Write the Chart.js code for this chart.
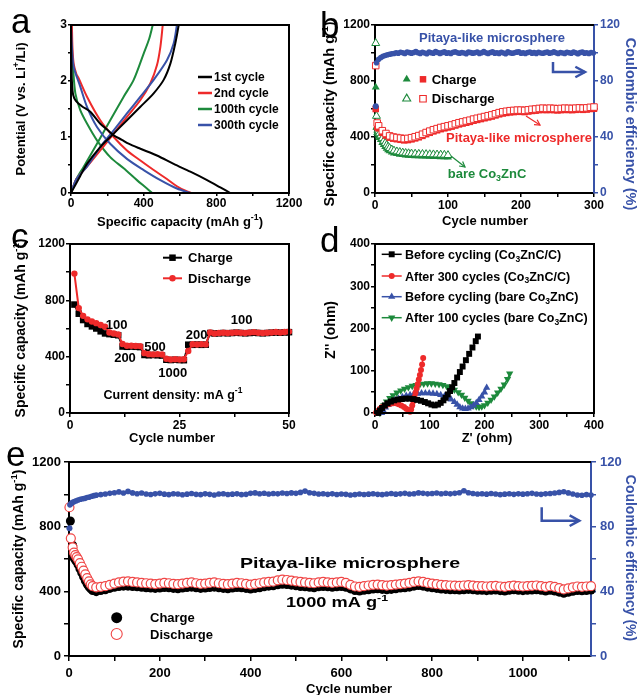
<!DOCTYPE html>
<html>
<head>
<meta charset="utf-8">
<title>Pitaya-like Co3ZnC/C electrochemistry</title>
<script src="https://cdn.jsdelivr.net/npm/chart.js@4.4.1/dist/chart.umd.min.js"></script>
<style>
  html, body { margin: 0; padding: 0; background: #fff; }
  #fig { position: relative; width: 639px; height: 695px; overflow: hidden; }
  #fig canvas { position: absolute; left: 0; top: 0; }
</style>
</head>
<body>
<div id="fig">
  <canvas id="chartA" width="639" height="695"></canvas>
  <canvas id="chartB" width="639" height="695"></canvas>
  <canvas id="chartC" width="639" height="695"></canvas>
  <canvas id="chartD" width="639" height="695"></canvas>
  <canvas id="chartE" width="639" height="695"></canvas>
</div>
<script>
const FONT = "'Liberation Sans', Arial, Helvetica, sans-serif";
const BLACK = '#000000';
const RED = '#ee2a2a';
const GREEN = '#1d8a3c';
const BLUE = '#3852a8';

function range(start, step, n) { return Array.from({ length: n }, (_, i) => start + i * step); }

// (a) voltage profiles, capacity (mAh/g) vs potential (V)
const aDis1Cap = [0, 2, 5, 12, 28, 60, 106, 160, 200, 235, 280, 317, 382, 473, 565, 657, 749, 822, 877];
const aDis1V = [3, 2.4, 2.0, 1.75, 1.64, 1.55, 1.45, 1.24, 1.13, 1.03, 0.95, 0.88, 0.79, 0.67, 0.52, 0.38, 0.23, 0.1, 0];
const aChg1Cap = [0, 20, 50, 88, 161, 235, 308, 382, 455, 510, 547, 574, 593];
const aChg1V = [0, 0.12, 0.3, 0.52, 0.82, 1.06, 1.3, 1.54, 1.78, 2.02, 2.31, 2.67, 3];
const aDis2Cap = [5, 8, 15, 30, 42, 88, 161, 235, 308, 382, 455, 528, 583, 630, 666];
const aDis2V = [3, 2.6, 2.3, 2.12, 2.05, 1.72, 1.3, 1.0, 0.76, 0.58, 0.41, 0.25, 0.12, 0.04, 0];
const aChg2Cap = [0, 30, 88, 161, 235, 308, 382, 437, 473, 492, 505];
const aChg2V = [0, 0.25, 0.47, 0.76, 1.06, 1.36, 1.66, 1.96, 2.28, 2.61, 3];
const aDis100Cap = [0, 3, 11, 24, 51, 88, 143, 216, 290, 363, 418, 446];
const aDis100V = [3, 2.6, 2.25, 1.78, 1.48, 1.24, 0.94, 0.64, 0.44, 0.23, 0.08, 0];
const aChg100Cap = [0, 30, 70, 143, 216, 290, 345, 400, 430, 450];
const aChg100V = [0, 0.25, 0.47, 0.88, 1.3, 1.72, 2.02, 2.49, 2.75, 3];
const aDis300Cap = [0, 5, 15, 51, 88, 143, 216, 308, 400, 492, 583, 657];
const aDis300V = [3, 2.6, 2.25, 1.9, 1.54, 1.18, 0.88, 0.61, 0.41, 0.23, 0.08, 0];
const aChg300Cap = [0, 30, 88, 161, 235, 308, 382, 455, 528, 565, 583];
const aChg300V = [0, 0.25, 0.47, 0.82, 1.12, 1.42, 1.72, 2.02, 2.37, 2.67, 3];

// (b) cycling at 100 mA/g
const bCycles = [1, 3].concat(range(5, 5, 60));
const bPitDis = [910, 500, 480, 445, 425, 408, 400, 396, 392, 388, 390, 395, 402, 410, 420, 432, 442, 452, 460, 468, 474, 480,
  486, 494, 502, 508, 514, 520, 528, 534, 540, 546, 552, 558, 566, 574, 580, 584, 588, 590, 592, 592,
  590, 594, 598, 600, 604, 606, 604, 606, 604, 602, 604, 606, 605, 604, 606, 608, 606, 608, 612, 614];
const bPitChg = [600, 470, 462, 430, 410, 395, 388, 384, 380, 376, 378, 383, 390, 398, 408, 420, 430, 440, 448, 456, 462, 468,
  474, 482, 490, 496, 502, 508, 516, 522, 528, 534, 540, 546, 554, 562, 568, 572, 576, 578, 580, 580,
  578, 582, 586, 588, 592, 594, 592, 594, 592, 590, 592, 594, 593, 592, 594, 596, 594, 596, 600, 602];
const bBareCycles = [1, 2, 3, 4, 5, 6, 8, 10, 12, 14, 16, 18, 20, 23, 26, 30, 34, 38, 42, 46, 50, 55, 60, 65, 70, 75, 80, 85, 90, 95, 100];
const bBareDis = [1070, 550, 470, 450, 440, 425, 410, 390, 372, 356, 342, 330, 320, 310, 302, 296, 292, 288, 285, 283, 281, 280, 279, 278, 277, 276, 275, 274, 273, 272, 270];
const bBareChg = [755, 470, 430, 420, 405, 395, 380, 360, 345, 330, 318, 308, 300, 292, 285, 280, 276, 273, 270, 268, 266, 265, 264, 263, 262, 261, 260, 259, 258, 257, 256];
const bCeFirst = 62;
const bCeCycles = range(2, 3, 100);
const bCe = [93, 95.5, 96.8, 97.6, 98.2, 98.7, 99.1, 99.4, 99.6,
  100.2, 99.8, 100.5, 100.1, 99.6, 100.7, 100.3, 99.9, 100.4, 101.0,
  100.2, 99.7, 100.5, 100.0, 99.5, 100.6, 100.2, 99.8, 101.1, 100.4,
  99.7, 100.3, 100.8, 99.9, 100.2, 99.6, 100.5, 100.9, 100.1, 99.8,
  100.4, 100.0, 99.5, 100.7, 100.3, 99.9, 100.1, 100.6, 99.7, 100.2,
  101.0, 100.1, 99.6, 100.4, 100.8, 99.9, 100.2, 99.7, 100.5, 100.0,
  99.5, 100.8, 100.2, 99.8, 100.1, 100.6, 100.9, 99.8, 100.2, 99.6,
  100.4, 100.7, 99.9, 100.3, 99.7, 100.5, 100.0, 99.8, 100.3, 100.6,
  99.9, 100.2, 100.8, 100.1, 99.6, 100.4, 100.0, 99.7, 100.5, 100.2,
  99.8, 100.6, 100.1, 99.5, 100.3, 100.7, 99.9, 100.2, 99.6, 100.4,
  100.0];

// (c) rate capability
const cCycles = range(1, 1, 50);
const cChg = [770, 705, 660, 632, 615, 600, 580, 565, 560, 556, 552, 472, 470, 472, 470, 468, 412, 410, 412, 410, 408,
  378, 376, 378, 376, 375, 485, 484, 486, 484, 485, 568, 565, 566, 568, 566, 568, 570, 568, 566, 568, 570, 568, 566, 568, 570, 572, 570, 572, 574];
const cDis = [990, 745, 690, 665, 650, 638, 625, 612, 572, 565, 558, 490, 478, 478, 476, 475, 425, 418, 416, 418, 415,
  385, 380, 382, 380, 382, 440, 488, 486, 488, 487, 572, 565, 568, 570, 568, 570, 572, 570, 568, 572, 574, 570, 568, 570, 572, 575, 572, 575, 578];

// (d) Nyquist plots, Z' and Z'' in ohm
const dBlackX = [6, 9, 13, 18, 23, 29, 35, 42, 49, 56, 63, 70, 77, 84, 91, 97, 103, 109, 115, 120, 125, 129, 133, 137, 141, 145, 150, 155, 160, 166, 172, 178, 184, 188];
const dBlackY = [0, 6, 12, 18, 23, 27, 30, 32, 33, 34, 34, 33, 31, 29, 26, 23, 20, 18, 20, 24, 30, 36, 44, 52, 61, 71, 84, 97, 110, 125, 140, 155, 170, 181];
const dRedX = [2, 5, 9, 13, 18, 23, 28, 33, 38, 43, 48, 53, 57, 61, 64, 66, 68, 70, 72, 74, 76, 78, 80, 82, 84, 86, 88];
const dRedY = [1, 5, 10, 14, 17, 20, 22, 23, 23, 21, 18, 14, 10, 6, 3, 8, 18, 28, 38, 48, 58, 68, 79, 90, 102, 115, 130];
const dBlueX = [12, 15, 19, 24, 30, 36, 43, 50, 57, 64, 71, 78, 85, 92, 99, 106, 113, 120, 127, 133, 139, 145, 150, 155, 160, 165, 170, 175, 180, 185, 190, 195, 200, 204];
const dBlueY = [0, 6, 13, 19, 25, 30, 34, 38, 41, 43, 45, 46, 47, 47, 47, 46, 45, 43, 40, 37, 32, 26, 20, 14, 11, 10, 11, 14, 18, 24, 31, 39, 49, 60];
const dGreenX = [9, 12, 16, 21, 27, 33, 40, 47, 54, 61, 68, 75, 82, 89, 96, 103, 110, 117, 124, 131, 138, 145, 152, 158, 164, 170, 175, 180, 185, 190, 195, 200, 206, 212, 218, 224, 230, 236, 242, 246];
const dGreenY = [0, 9, 18, 27, 35, 42, 48, 53, 57, 61, 64, 66, 68, 69, 70, 70, 69, 68, 66, 63, 59, 55, 49, 43, 36, 29, 23, 18, 15, 14, 15, 18, 24, 31, 39, 48, 57, 67, 80, 93];

// (e) long cycling at 1000 mA/g
const eLateCycles = range(60, 10, 110);
const eDisCycles = [1, 4, 8, 11, 14, 17, 20, 24, 28, 32, 36, 40, 44, 48, 52].concat(eLateCycles);
const eDis = [920, 728, 672, 640, 624, 612, 598, 575, 552, 528, 505, 482, 462, 443, 432,
  425, 428, 432, 440, 448, 455, 460, 462, 458,
  455, 452, 450, 448, 445, 448, 452, 450, 446, 444, 448, 452, 455, 450, 446, 448,
  452, 455, 450, 446, 444, 448, 452, 450, 446, 442, 446, 450, 455, 458, 460,
  468, 472, 470, 466, 462, 458, 455, 452, 450, 455, 458, 456, 452, 455, 458,
  452, 440, 430, 428, 432, 436, 440, 442, 438, 435, 438, 442, 445, 448, 452,
  458, 462, 458, 452, 448, 444, 440, 438, 436, 435, 434, 436, 438, 435, 432,
  432, 430, 432, 434, 430, 428, 432, 435, 432, 430, 432, 434, 436, 432, 428,
  432, 428, 420, 412, 418, 425, 430, 428, 430, 432];
const eChgCycles = [3, 8, 10, 13, 16, 20, 24, 28, 32, 36, 40, 44, 48, 52].concat(eLateCycles);
const eChg = [835, 685, 612, 598, 585, 565, 540, 515, 490, 465, 445, 428, 415, 405,
  398, 405, 410, 418, 425, 430, 432, 432, 430,
  428, 425, 422, 420, 418, 420, 424, 422, 418, 416, 420, 424, 426, 422, 418, 420,
  424, 426, 422, 418, 416, 420, 424, 422, 418, 414, 418, 422, 428, 432, 434,
  440, 444, 442, 438, 434, 430, 428, 425, 422, 428, 430, 428, 425, 428, 430,
  425, 415, 405, 402, 406, 410, 414, 416, 412, 410, 412, 416, 420, 422, 426,
  432, 436, 432, 426, 422, 418, 414, 412, 410, 410, 408, 410, 412, 410, 406,
  406, 404, 406, 408, 404, 402, 406, 410, 406, 404, 406, 408, 410, 406, 402,
  406, 402, 395, 388, 394, 400, 405, 403, 405, 408];
const eCeFirst = 79;
const eCeCycles = [2, 5, 8, 12, 16, 20, 25, 30, 35, 40, 45, 50, 55].concat(eLateCycles);
const eCe = [93.5, 94.4, 95, 95.6, 96, 96.5, 97, 97.3, 97.5, 98, 98.3, 98.8, 99.2,
  99.5, 99.8, 100.2, 100.6, 101.0, 101.5, 100.8, 101.8, 100.9,
  100.4, 100.8, 100.2, 99.9, 100.3, 100.6, 100.1, 99.8, 100.4, 100.2, 99.7, 100.1, 100.5, 100.0, 99.8, 100.3,
  100.0, 99.6, 100.2, 100.4, 99.9, 100.1, 100.3, 99.8, 100.0, 100.6, 100.9, 100.4, 100.7, 100.2, 100.5,
  100.3, 100.8, 100.5, 100.9, 100.6, 101.2, 102.0, 101.0, 100.6, 100.2, 100.4, 100.0, 100.3, 99.9, 100.2,
  100.0, 99.6, 99.8, 100.2, 99.9, 100.1, 100.4, 100.0, 99.8, 100.2, 100.5, 100.1, 100.3, 100.6, 100.2,
  100.4, 100.9, 100.6, 100.3, 100.5, 100.8, 100.4, 100.7, 100.3, 100.6, 101.0, 102.2, 101.0, 100.5, 100.2,
  100.4, 100.1, 100.5, 100.2, 99.8, 100.1, 100.4, 100.0, 100.3, 100.1, 100.4, 100.6, 100.2, 100.0, 100.3,
  100.5, 100.8, 101.2, 101.6, 100.9, 100.2, 99.6, 99.4, 99.8, 99.6];

// ---------- helpers ----------
function xy(xs, ys) { return xs.map((x, i) => ({ x, y: ys[i] })); }

function curve(xs, ys, color) {
  return { data: xy(xs, ys), showLine: true, borderColor: color, borderWidth: 2, pointRadius: 0, tension: 0.3, clip: false };
}

function dots(xs, ys, o) {
  return {
    data: xy(xs, ys), showLine: !!o.line, borderColor: o.color, borderWidth: o.line || 0, tension: 0,
    pointStyle: o.style || 'circle', pointRadius: o.r, pointRotation: o.rot || 0,
    pointBackgroundColor: o.open ? '#ffffff' : o.color, pointBorderColor: o.color,
    pointBorderWidth: o.open ? (o.bw || 1) : 0, yAxisID: o.axis || 'y', clip: false
  };
}

// tick labels are clipped to the axis box, so size must hold the widest label
function axis(o) {
  const col = o.color || BLACK;
  return {
    type: 'linear', position: o.pos, min: o.min, max: o.max,
    afterFit(s) {
      if (s.isHorizontal()) s.height = o.size; else s.width = o.size;
      s.paddingLeft = s.paddingRight = s.paddingTop = s.paddingBottom = 0;
    },
    ticks: {
      stepSize: o.step, autoSkip: false, maxRotation: 0, minRotation: 0, includeBounds: false,
      padding: o.pad ?? 1, color: col,
      font: { family: FONT, size: o.font || 12, weight: 'bold' },
      callback: v => Math.abs(v / o.major - Math.round(v / o.major)) < 1e-6 ? String(v) : ''
    },
    grid: { drawOnChartArea: false, drawTicks: true, tickLength: o.tick || 4, color: col, lineWidth: 1.5 },
    border: { display: true, color: col, width: 2 }
  };
}

function opts(padding, scales) {
  return {
    responsive: false, animation: false, events: [],
    layout: { padding },
    plugins: { legend: { display: false }, tooltip: { enabled: false } },
    scales
  };
}

// text with ^{sup} and _{sub} parts; y is the vertical middle unless base is set
function txt(ctx, s, x, y, o = {}) {
  const size = o.size || 12, weight = o.weight || 'bold';
  const parts = s.split(/(\^\{[^}]*\}|_\{[^}]*\})/).filter(Boolean).map(p => {
    if (p.startsWith('^{')) return { t: p.slice(2, -1), k: 0.68, dy: -0.42 };
    if (p.startsWith('_{')) return { t: p.slice(2, -1), k: 0.68, dy: 0.22 };
    return { t: p, k: 1, dy: 0 };
  });
  let w = 0;
  for (const p of parts) { ctx.font = `${weight} ${size * p.k}px ${FONT}`; p.w = ctx.measureText(p.t).width; w += p.w; }
  ctx.save();
  ctx.translate(x, y);
  if (o.rot) ctx.rotate(o.rot);
  if (o.sx) ctx.scale(o.sx, 1);
  let cx = o.align === 'left' ? 0 : o.align === 'right' ? -w : -w / 2;
  const base = o.base ? 0 : size * 0.36;
  ctx.fillStyle = o.color || BLACK;
  ctx.textAlign = 'left';
  ctx.textBaseline = 'alphabetic';
  for (const p of parts) { ctx.font = `${weight} ${size * p.k}px ${FONT}`; ctx.fillText(p.t, cx, base + p.dy * size); cx += p.w; }
  ctx.restore();
}

function mark(ctx, style, x, y, r, color, open) {
  ctx.beginPath();
  if (style === 'circle') ctx.arc(x, y, r, 0, Math.PI * 2);
  else if (style === 'rect') { const h = r * Math.SQRT1_2; ctx.rect(x - h, y - h, 2 * h, 2 * h); }
  else {
    const sgn = style === 'triangleDown' ? -1 : 1;
    for (let i = 0; i < 3; i++) {
      const a = i * 2 * Math.PI / 3;
      const px = x + Math.sin(a) * r, py = y - sgn * Math.cos(a) * r;
      i ? ctx.lineTo(px, py) : ctx.moveTo(px, py);
    }
    ctx.closePath();
  }
  ctx.fillStyle = open ? '#ffffff' : color;
  ctx.fill();
  if (open) { ctx.lineWidth = 1.1; ctx.strokeStyle = color; ctx.stroke(); }
}

function line(ctx, x1, y1, x2, y2, color, lw) {
  ctx.beginPath(); ctx.moveTo(x1, y1); ctx.lineTo(x2, y2);
  ctx.strokeStyle = color; ctx.lineWidth = lw; ctx.stroke();
}

function arrow(ctx, pts, color, lw, head) {
  ctx.strokeStyle = color; ctx.lineWidth = lw; ctx.lineJoin = 'miter'; ctx.lineCap = 'butt';
  ctx.beginPath();
  pts.forEach((p, i) => i ? ctx.lineTo(p[0], p[1]) : ctx.moveTo(p[0], p[1]));
  ctx.stroke();
  const [x1, y1] = pts[pts.length - 2], [x2, y2] = pts[pts.length - 1];
  const a = Math.atan2(y2 - y1, x2 - x1), s = 0.5;
  ctx.beginPath();
  ctx.moveTo(x2 - head * Math.cos(a - s), y2 - head * Math.sin(a - s));
  ctx.lineTo(x2, y2);
  ctx.lineTo(x2 - head * Math.cos(a + s), y2 - head * Math.sin(a + s));
  ctx.stroke();
}

function box(ctx, ca) {
  ctx.strokeStyle = BLACK; ctx.lineWidth = 2;
  ctx.strokeRect(ca.left, ca.top, ca.right - ca.left, ca.bottom - ca.top);
}

function deco(draw) {
  return { id: 'deco', afterDraw(chart) { const ctx = chart.ctx; ctx.save(); draw(ctx, chart.chartArea); ctx.restore(); } };
}

// ---------- (a) ----------
new Chart(document.getElementById('chartA'), {
  type: 'scatter',
  data: { datasets: [
    curve(aDis1Cap, aDis1V, BLACK), curve(aChg1Cap, aChg1V, BLACK),
    curve(aDis300Cap, aDis300V, BLUE), curve(aChg300Cap, aChg300V, BLUE),
    curve(aDis2Cap, aDis2V, RED), curve(aChg2Cap, aChg2V, RED),
    curve(aDis100Cap, aDis100V, GREEN), curve(aChg100Cap, aChg100V, GREEN)
  ] },
  options: opts({ left: 41, top: 25, right: 350, bottom: 482 }, {
    x: axis({ pos: 'bottom', min: 0, max: 1200, step: 200, major: 400, size: 20, tick: 3, pad: 0 }),
    y: axis({ pos: 'left', min: 0, max: 3, step: 0.5, major: 1, size: 30, tick: 3, pad: 1 })
  }),
  plugins: [deco((ctx, ca) => {
    box(ctx, ca);
    txt(ctx, 'a', 11, 33, { size: 35, weight: 'normal', align: 'left', base: true });
    txt(ctx, 'Specific capacity (mAh g^{-1})', 180, 221, { size: 13 });
    txt(ctx, 'Potential (V vs. Li^{+}/Li)', 20, 109, { size: 13, rot: -Math.PI / 2 });
    [['1st cycle', BLACK, 77], ['2nd cycle', RED, 93], ['100th cycle', GREEN, 109], ['300th cycle', BLUE, 125]].forEach(([t, c, y]) => {
      line(ctx, 198, y, 212, y, c, 2.5);
      txt(ctx, t, 214, y, { size: 12, align: 'left' });
    });
  })]
});

// ---------- (b) ----------
new Chart(document.getElementById('chartB'), {
  type: 'scatter',
  data: { datasets: [
    dots([1], [bCeFirst], { color: BLUE, r: 3, axis: 'y2' }),
    dots(bCeCycles, bCe, { color: BLUE, r: 2.8, line: 2.5, axis: 'y2' }),
    dots(bCycles, bPitDis, { color: RED, style: 'rect', r: 4.6, open: true }),
    dots(bCycles, bPitChg, { color: RED, style: 'rect', r: 4.6 }),
    dots(bBareCycles, bBareDis, { color: GREEN, style: 'triangle', r: 4.6, open: true }),
    dots(bBareCycles, bBareChg, { color: GREEN, style: 'triangle', r: 4.6 })
  ] },
  options: opts({ left: 337, top: 25, right: 12, bottom: 482 }, {
    x: axis({ pos: 'bottom', min: 0, max: 300, step: 50, major: 100, size: 20, tick: 4, pad: 1 }),
    y: axis({ pos: 'left', min: 0, max: 1200, step: 200, major: 400, size: 38, tick: 4, pad: 1 }),
    y2: axis({ pos: 'right', min: 0, max: 120, step: 20, major: 40, size: 33, tick: 4, pad: 2, color: BLUE })
  }),
  plugins: [deco((ctx, ca) => {
    line(ctx, ca.left, ca.top, ca.right, ca.top, BLACK, 2);
    txt(ctx, 'b', 320, 37, { size: 35, weight: 'normal', align: 'left', base: true });
    txt(ctx, 'Cycle number', 485, 220, { size: 13 });
    txt(ctx, 'Specific capacity (mAh g^{-1})', 329, 114, { size: 14.5, rot: -Math.PI / 2 });
    txt(ctx, 'Coulombic efficiency (%)', 631, 124, { size: 14.5, rot: Math.PI / 2, color: BLUE });
    txt(ctx, 'Pitaya-like microsphere', 492, 37, { size: 13, color: BLUE });
    txt(ctx, 'Pitaya-like microsphere', 519, 137, { size: 13, color: RED });
    txt(ctx, 'bare Co_{3}ZnC', 487, 173, { size: 13, color: GREEN });
    arrow(ctx, [[553, 62], [553, 72], [585, 72]], BLUE, 2.5, 11);
    arrow(ctx, [[526, 116], [540, 125]], RED, 1.2, 6);
    arrow(ctx, [[451, 156], [465, 167]], GREEN, 1.2, 6);
    mark(ctx, 'triangle', 406.7, 79.3, 4.6, GREEN, false);
    mark(ctx, 'rect', 423, 79.3, 4.6, RED, false);
    txt(ctx, 'Charge', 431.7, 79.3, { size: 13, align: 'left' });
    mark(ctx, 'triangle', 406.7, 98.7, 4.6, GREEN, true);
    mark(ctx, 'rect', 423, 98.7, 4.6, RED, true);
    txt(ctx, 'Discharge', 431.7, 98.7, { size: 13, align: 'left' });
  })]
});

// ---------- (c) ----------
new Chart(document.getElementById('chartC'), {
  type: 'scatter',
  data: { datasets: [
    dots(cCycles, cDis, { color: RED, r: 3.2, line: 2 }),
    dots(cCycles, cChg, { color: BLACK, style: 'rect', r: 4.6, line: 2 })
  ] },
  options: opts({ left: 34, top: 244, right: 350, bottom: 262 }, {
    x: axis({ pos: 'bottom', min: 0, max: 50, step: 12.5, major: 25, size: 20, tick: 4, pad: 1 }),
    y: axis({ pos: 'left', min: 0, max: 1200, step: 200, major: 400, size: 36, tick: 4, pad: 1 })
  }),
  plugins: [deco((ctx, ca) => {
    box(ctx, ca);
    txt(ctx, 'c', 11, 248, { size: 35, weight: 'normal', align: 'left', base: true });
    txt(ctx, 'Cycle number', 172, 437, { size: 13 });
    txt(ctx, 'Specific capacity (mAh g^{-1})', 20, 328, { size: 14, rot: -Math.PI / 2 });
    line(ctx, 163, 257.7, 182, 257.7, BLACK, 2);
    mark(ctx, 'rect', 172.5, 257.7, 4.6, BLACK, false);
    txt(ctx, 'Charge', 188, 257.7, { size: 13, align: 'left' });
    line(ctx, 163, 278.3, 182, 278.3, RED, 2);
    mark(ctx, 'circle', 172.5, 278.3, 3.2, RED, false);
    txt(ctx, 'Discharge', 188, 278.3, { size: 13, align: 'left' });
    [['100', 116.7, 324], ['200', 125, 357.3], ['500', 155, 346], ['1000', 172.7, 372.3], ['200', 196.7, 334.3], ['100', 241.7, 319]]
      .forEach(([t, x, y]) => txt(ctx, t, x, y, { size: 13 }));
    txt(ctx, 'Current density: mA g^{-1}', 173, 394, { size: 12.5 });
  })]
});

// ---------- (d) ----------
new Chart(document.getElementById('chartD'), {
  type: 'scatter',
  data: { datasets: [
    dots(dBlackX, dBlackY, { color: BLACK, style: 'rect', r: 4.2, line: 1.5 }),
    dots(dRedX, dRedY, { color: RED, r: 3, line: 1.5 }),
    dots(dBlueX, dBlueY, { color: BLUE, style: 'triangle', r: 4.2, line: 1.5 }),
    dots(dGreenX, dGreenY, { color: GREEN, style: 'triangle', rot: 180, r: 4.2, line: 1.5 })
  ] },
  options: opts({ left: 341, top: 244, right: 45, bottom: 262 }, {
    x: axis({ pos: 'bottom', min: 0, max: 400, step: 50, major: 100, size: 20, tick: 4, pad: 1 }),
    y: axis({ pos: 'left', min: 0, max: 400, step: 50, major: 100, size: 34, tick: 4, pad: 1 })
  }),
  plugins: [deco((ctx, ca) => {
    box(ctx, ca);
    txt(ctx, 'd', 320, 252, { size: 35, weight: 'normal', align: 'left', base: true });
    txt(ctx, "Z' (ohm)", 487, 437, { size: 13 });
    txt(ctx, "Z'' (ohm)", 330, 330, { size: 14, rot: -Math.PI / 2 });
    [['Before cycling (Co_{3}ZnC/C)', BLACK, 'rect', 254.3, 4.2],
     ['After 300 cycles (Co_{3}ZnC/C)', RED, 'circle', 276, 3],
     ['Before cycling (bare Co_{3}ZnC)', BLUE, 'triangle', 296.7, 4.2],
     ['After 100 cycles (bare Co_{3}ZnC)', GREEN, 'triangleDown', 317.7, 4.2]].forEach(([t, c, s, y, r]) => {
      line(ctx, 381.7, y, 401.7, y, c, 1.5);
      mark(ctx, s, 391.7, y, r, c, false);
      txt(ctx, t, 405, y, { size: 12.5, align: 'left' });
    });
  })]
});

// ---------- (e) ----------
new Chart(document.getElementById('chartE'), {
  type: 'scatter',
  data: { datasets: [
    dots([1], [eCeFirst], { color: BLUE, r: 3, axis: 'y2' }),
    dots(eCeCycles, eCe, { color: BLUE, r: 2.8, line: 3, axis: 'y2' }),
    dots(eDisCycles, eDis, { color: '#f04646', r: 4.5, open: true, bw: 1.2 }),
    dots(eChgCycles, eChg, { color: BLACK, r: 4.5 })
  ] },
  options: opts({ left: 27, top: 462, right: 12, bottom: 13 }, {
    x: axis({ pos: 'bottom', min: 0, max: 1150, step: 100, major: 200, size: 26, tick: 5, pad: 5, font: 13 }),
    y: axis({ pos: 'left', min: 0, max: 1200, step: 200, major: 400, size: 42, tick: 5, pad: 3, font: 13 }),
    y2: axis({ pos: 'right', min: 0, max: 120, step: 20, major: 40, size: 36, tick: 5, pad: 4, font: 13, color: BLUE })
  }),
  plugins: [deco((ctx, ca) => {
    line(ctx, ca.left, ca.top, ca.right, ca.top, BLACK, 2);
    txt(ctx, 'e', 6, 466, { size: 35, weight: 'normal', align: 'left', base: true });
    txt(ctx, 'Cycle number', 349, 688, { size: 13 });
    txt(ctx, 'Specific capacity (mAh g^{-1})', 18, 559, { size: 14, rot: -Math.PI / 2 });
    txt(ctx, 'Coulombic efficiency (%)', 631, 558, { size: 14, rot: Math.PI / 2, color: BLUE });
    txt(ctx, 'Pitaya-like microsphere', 350, 563, { size: 14, sx: 1.4 });
    txt(ctx, '1000 mA g^{-1}', 337, 602, { size: 14, sx: 1.3 });
    arrow(ctx, [[541.7, 507.3], [541.7, 520.7], [579.3, 520.7]], BLUE, 2.5, 11);
    mark(ctx, 'circle', 116.7, 617.7, 5.5, BLACK, false);
    txt(ctx, 'Charge', 150, 617.7, { size: 13, align: 'left' });
    mark(ctx, 'circle', 116.7, 634, 5.5, '#f04646', true);
    txt(ctx, 'Discharge', 150, 634, { size: 13, align: 'left' });
  })]
});
</script>
</body>
</html>
